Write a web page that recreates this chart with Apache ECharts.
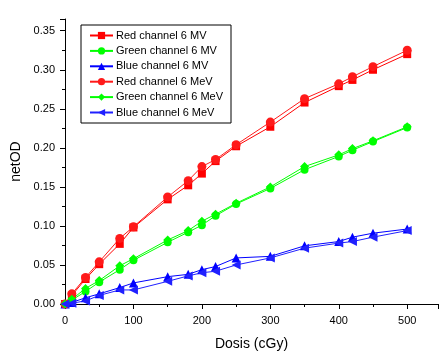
<!DOCTYPE html>
<html>
<head>
<meta charset="utf-8">
<script src="https://cdn.jsdelivr.net/npm/echarts@6/dist/echarts.min.js"></script>
<style>html,body{margin:0;padding:0;background:#fff}#c{width:439px;height:356px}</style>
</head>
<body>
<div id="c"></div>
<script>
var dose = [0, 10, 30, 50, 80, 100, 150, 180, 200, 220, 250, 300, 350, 400, 420, 450, 500];
var redMV    = [0, 0.011, 0.032, 0.051, 0.077, 0.098, 0.134, 0.152, 0.167, 0.183, 0.202, 0.227, 0.258, 0.279, 0.287, 0.300, 0.320];
var greenMV  = [0, 0.005, 0.016, 0.028, 0.044, 0.056, 0.079, 0.092, 0.101, 0.113, 0.128, 0.148, 0.172, 0.189, 0.197, 0.208, 0.226];
var blueMV   = [0, 0.002, 0.008, 0.013, 0.021, 0.027, 0.035, 0.038, 0.044, 0.048, 0.059, 0.061, 0.0745, 0.080, 0.0856, 0.0907, 0.096];
var redMeV   = [0, 0.013, 0.034, 0.054, 0.084, 0.099, 0.137, 0.158, 0.176, 0.185, 0.204, 0.233, 0.263, 0.282, 0.291, 0.304, 0.325];
var greenMeV = [0, 0.006, 0.020, 0.030, 0.049, 0.058, 0.082, 0.094, 0.106, 0.115, 0.129, 0.150, 0.176, 0.191, 0.199, 0.209, 0.227];
var blueMeV  = [0, 0.001, 0.004, 0.011, 0.018, 0.018, 0.029, 0.036, 0.040, 0.042, 0.050, 0.059, 0.0715, 0.078, 0.080, 0.0856, 0.094];
var names = ['Red channel 6 MV','Green channel 6 MV','Blue channel 6 MV','Red channel 6 MeV','Green channel 6 MeV','Blue channel 6 MeV'];

function pairs(ys){ return dose.map(function(d,i){ return [d, ys[i]]; }); }
function mk(name, ys, color, symbol, size, rot){
  return {name:name, type:'line', data:pairs(ys), symbol:symbol, symbolSize:size, symbolRotate:rot||0,
    showAllSymbol:true, itemStyle:{color:color}, lineStyle:{color:color, width:1}, z:2};
}
var font = 'Liberation Sans, Arial, sans-serif';
var chart = echarts.init(document.getElementById('c'), null, {renderer:'canvas'});
chart.setOption({
  animation:false,
  grid:{left:65, right:1, top:19, bottom:52},
  legend:{
    orient:'vertical', left:81, top:25, data:names,
    borderColor:'#000', borderWidth:1, padding:[5,8,5,8],
    itemWidth:23, itemHeight:9, itemGap:4.4,
    textStyle:{fontFamily:font, fontSize:11, color:'#000', padding:[0,0,0,-2]}
  },
  xAxis:{
    type:'value', min:0, max:545, interval:100,
    name:'Dosis (cGy)', nameLocation:'middle', nameGap:33,
    nameTextStyle:{fontFamily:font, fontSize:14, color:'#000'},
    axisLine:{lineStyle:{color:'#000', width:1}},
    axisTick:{show:true, inside:false, length:5, lineStyle:{color:'#000'}},
    minorTick:{show:true, splitNumber:2, length:3, lineStyle:{color:'#000'}},
    axisLabel:{fontFamily:font, fontSize:11, color:'#000', margin:11, showMaxLabel:false},
    splitLine:{show:false}
  },
  yAxis:{
    type:'value', min:0, max:0.365, interval:0.05,
    name:'netOD', nameLocation:'middle', nameGap:40,
    nameTextStyle:{fontFamily:font, fontSize:14, color:'#000'},
    axisLine:{show:true, lineStyle:{color:'#000', width:1}},
    axisTick:{show:true, inside:false, length:5, lineStyle:{color:'#000'}},
    minorTick:{show:true, splitNumber:2, length:3, lineStyle:{color:'#000'}},
    axisLabel:{fontFamily:font, fontSize:11, color:'#000', margin:10, showMaxLabel:false,
      formatter:function(v){ return v.toFixed(2); }},
    splitLine:{show:false}
  },
  series:[
    mk(names[0], redMV,   '#ff0000', 'rect', 8),
    mk(names[1], greenMV, '#00ff00', 'circle', 8),
    mk(names[2], blueMV,  '#0000ff', 'triangle', 9),
    mk(names[3], redMeV,  '#ff1a1a', 'circle', 9),
    mk(names[4], greenMeV,'#00ff00', 'diamond', 9),
    mk(names[5], blueMeV, '#2020ff', 'triangle', 9, 90)
  ]
});
</script>
</body>
</html>
